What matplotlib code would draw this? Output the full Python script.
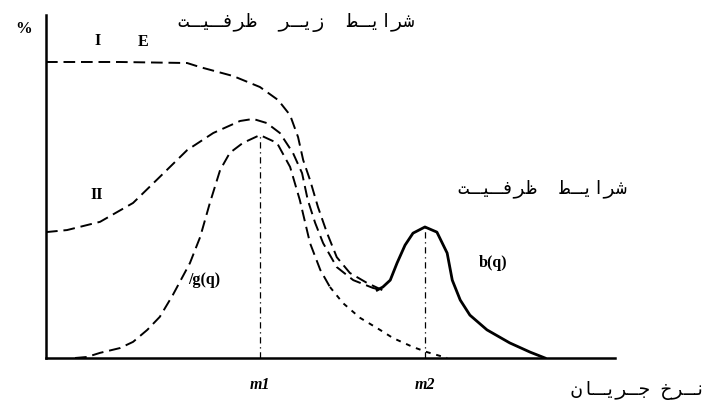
import matplotlib
matplotlib.use("Agg")
import matplotlib.pyplot as plt

# curve I (dashed, top plateau)
x_I = [0, 13.0, 24.8, 27.1, 32.9, 37.6, 40.8, 42.9, 44.3, 45.2, 46.4, 47.8, 49.4, 51.1, 53.4, 56.4, 59.1]
y_I = [86.3, 86.3, 86.0, 84.8, 82.2, 79.0, 75.2, 70.8, 64.4, 57.7, 51.9, 44.0, 36.4, 29.4, 24.8, 21.9, 19.8]

# curve II (dashed, starts mid axis)
x_II = [0, 3.7, 9.5, 15.3, 20.0, 24.8, 29.4, 34.1, 36.4, 38.8, 41.1, 43.4, 45.0, 46.0, 47.3, 48.7, 51.1, 54.0, 57.5, 59.1]
y_II = [36.7, 37.3, 39.7, 45.2, 52.8, 60.6, 65.6, 69.1, 69.7, 68.5, 65.6, 59.8, 53.9, 46.1, 39.4, 33.5, 26.5, 22.7, 20.4, 19.8]

# g(q) demand curve
x_g = [5.1, 7.2, 9.5, 13.0, 15.3, 17.8, 20.0, 22.3, 25.3, 27.1, 28.8, 30.6, 32.3, 34.6, 37.6, 40.6, 42.9,
       44.6, 46.4, 48.2, 49.9, 52.2, 55.2, 58.7, 61.0, 64.5, 67.0, 70.5]
y_g = [0, 0.3, 1.5, 2.9, 4.7, 8.2, 12.0, 18.4, 27.7, 35.3, 45.2, 54.8, 59.8, 62.7, 65.0, 62.7, 55.7,
       46.1, 33.5, 25.7, 20.7, 16.0, 11.7, 8.2, 5.8, 3.2, 1.7, 0]
g_split = 20  # dotted tail starts here

# b(q) solid curve
x_b = [58.2, 59.2, 60.5, 61.7, 63.1, 64.5, 66.6, 68.7, 70.5, 71.4, 72.8, 74.5, 77.5, 81.5, 85.1, 87.7]
y_b = [19.8, 20.7, 22.7, 27.7, 32.9, 36.4, 38.2, 36.7, 30.6, 22.7, 16.9, 12.5, 8.2, 4.4, 1.7, 0]

# mode markers
m_x = [37.6, 66.6]
m_top = [65.0, 38.2]
m_labels = ["m1", "m2"]

title_top = "شرایـط  زیـر  ظرفـیـت"
title_mid = "شرایـط  ظرفـیـت"
x_title = "نـرخ جـریـان"

# minimal arabic shaping (matplotlib has no text shaping)
forms = {
    "ا": (0xFE8D, 0xFE8E, None, None),
    "ت": (0xFE95, 0xFE96, 0xFE97, 0xFE98),
    "ج": (0xFE9D, 0xFE9E, 0xFE9F, 0xFEA0),
    "خ": (0xFEA5, 0xFEA6, 0xFEA7, 0xFEA8),
    "ر": (0xFEAD, 0xFEAE, None, None),
    "ز": (0xFEAF, 0xFEB0, None, None),
    "ش": (0xFEB5, 0xFEB6, 0xFEB7, 0xFEB8),
    "ط": (0xFEC1, 0xFEC2, 0xFEC3, 0xFEC4),
    "ظ": (0xFEC5, 0xFEC6, 0xFEC7, 0xFEC8),
    "ف": (0xFED1, 0xFED2, 0xFED3, 0xFED4),
    "ن": (0xFEE5, 0xFEE6, 0xFEE7, 0xFEE8),
    "ی": (0xFEF1, 0xFEF2, 0xFEF3, 0xFEF4),
}
TATWEEL = "ـ"


def joins_next(c):
    return c == TATWEEL or (c in forms and forms[c][2] is not None)


def joins(c):
    return c == TATWEEL or c in forms


def shape(s):
    out = []
    for i, c in enumerate(s):
        if c not in forms:
            out.append(c)
            continue
        prev = s[i - 1] if i > 0 else " "
        nxt = s[i + 1] if i + 1 < len(s) else " "
        p = joins_next(prev)
        n = joins_next(c) and joins(nxt)
        iso, fin, ini, med = forms[c]
        if p and n:
            code = med
        elif p:
            code = fin
        elif n:
            code = ini
        else:
            code = iso
        out.append(chr(code))
    return "".join(out)[::-1]


fig = plt.figure(figsize=(7.12, 4.04), dpi=100)
ax = fig.add_axes([46 / 712, 46 / 404, 569 / 712, 343 / 404])
ax.set_xlim(0, 100)
ax.set_ylim(0, 100)
ax.set_xticks([])
ax.set_yticks([])
for s in ["top", "right"]:
    ax.spines[s].set_visible(False)
ax.spines["left"].set_linewidth(1.8)
ax.spines["bottom"].set_linewidth(1.8)

ax.plot(x_I, y_I, color="black", lw=1.4, dashes=(6, 3))
ax.plot(x_II, y_II, color="black", lw=1.4, dashes=(6, 3))
ax.plot(x_g[:g_split + 1], y_g[:g_split + 1], color="black", lw=1.4, dashes=(6, 3))
ax.plot(x_g[g_split:], y_g[g_split:], color="black", lw=1.4, dashes=(2.5, 3))
ax.plot(x_b, y_b, color="black", lw=2.0)

for mx, mt, ml in zip(m_x, m_top, m_labels):
    ax.plot([mx, mx], [0, mt], color="black", lw=0.9, dashes=(5, 3, 1, 3))
    ax.text(mx, -7.8, ml, ha="center", va="center", fontsize=11.5,
            family="Liberation Serif", style="italic", weight="bold", clip_on=False)

serif = dict(family="Liberation Serif", weight="bold", fontsize=11.5, ha="center", va="center")
ax.text(9.1, 92.5, "I", **serif)
ax.text(17.0, 92.0, "E", **serif)
ax.text(8.9, 47.5, "II", **serif)
ax.text(27.8, 22.8, "/g(q)", **serif)
ax.text(78.6, 27.7, "b(q)", **serif)
ax.text(-4.0, 96.0, "%", family="Liberation Serif", weight="bold", fontsize=12,
        ha="center", va="center", clip_on=False)

fa = dict(family=["DejaVu Sans Mono", "DejaVu Sans"], fontsize=13.5, va="center")
fig.text(296 / 712, 1 - 22 / 404, shape(title_top), ha="center", **fa)
fig.text(542 / 712, 1 - 189 / 404, shape(title_mid), ha="center", **fa)
fig.text(706 / 712, 1 - 391 / 404, shape(x_title), ha="right", **fa)

fig.savefig("out.png", dpi=100)
